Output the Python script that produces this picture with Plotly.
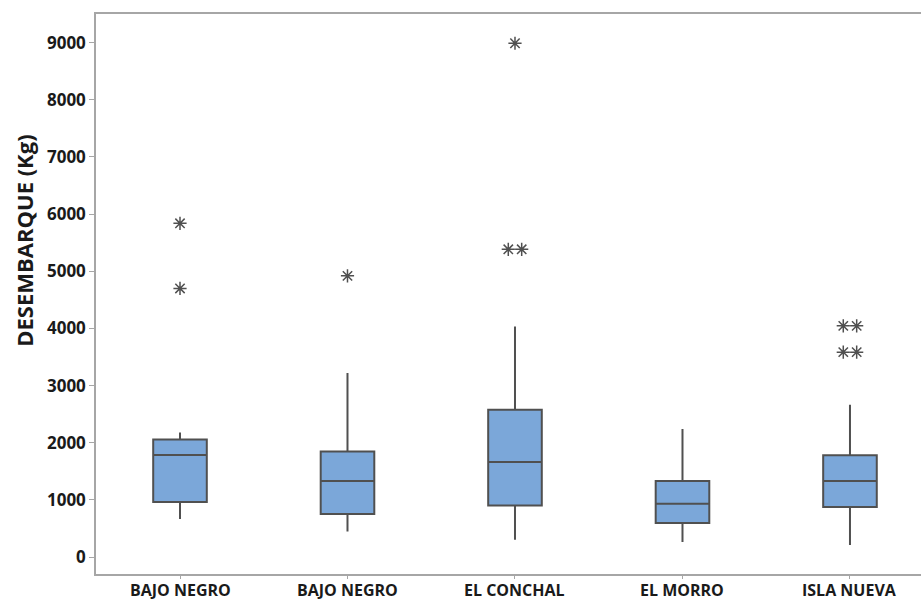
import plotly.graph_objects as go

categories = ["BAJO NEGRO", "BAJO NEGRO", "EL CONCHAL", "EL MORRO", "ISLA NUEVA"]
q1 = [962, 752, 902, 595, 874]
median = [1784, 1329, 1661, 932, 1329]
q3 = [2057, 1847, 2576, 1329, 1780]
lower_whisker = [665, 448, 303, 262, 210]
upper_whisker = [2179, 3218, 4033, 2239, 2663]
outliers = [
    [5840, 4700],
    [4920],
    [8990, 5385, 5385],
    [],
    [4045, 4045, 3585, 3585],
]
y_ticks = [0, 1000, 2000, 3000, 4000, 5000, 6000, 7000, 8000, 9000]

BOX_FILL = "#7BA7D9"
LINE = "#505050"
AXIS = "#A6A6A6"
TEXT = "#1A1A1A"
FONT = "Open Sans"

positions = list(range(1, len(categories) + 1))

fig = go.Figure()
fig.add_trace(go.Box(
    x=positions,
    q1=q1, median=median, q3=q3,
    lowerfence=lower_whisker, upperfence=upper_whisker,
    width=0.32,
    whiskerwidth=0,
    fillcolor=BOX_FILL,
    line=dict(color=LINE, width=2),
    boxpoints=False,
    showlegend=False,
))

ox, oy = [], []
for pos, vals in zip(positions, outliers):
    counts = {}
    for v in vals:
        counts[v] = counts.get(v, 0) + 1
    for v, n in counts.items():
        for k in range(n):
            off = (k - (n - 1) / 2) * 0.08
            ox.append(pos + off)
            oy.append(v)

fig.add_trace(go.Scatter(
    x=ox, y=oy, mode="markers",
    marker=dict(symbol="asterisk-open", size=11, color=LINE,
                line=dict(color=LINE, width=1.5)),
    showlegend=False,
))

annotations = [dict(
    text="DESEMBARQUE (Kg)", textangle=-90,
    xref="paper", yref="paper", x=-0.0873, y=0.595,
    xanchor="center", yanchor="middle", showarrow=False,
    font=dict(family=FONT, size=22, color=TEXT, weight="bold"),
)]
for pos, name in zip(positions, categories):
    annotations.append(dict(
        text=name, xref="x", yref="paper", x=pos, y=0,
        xanchor="center", yanchor="top", yshift=-3, showarrow=False,
        font=dict(family=FONT, size=16, color=TEXT, weight="bold"),
    ))

fig.update_layout(
    width=921, height=601,
    margin=dict(l=96, r=0, t=14, b=27),
    paper_bgcolor="white", plot_bgcolor="white",
    font=dict(family=FONT, color=TEXT),
    annotations=annotations,
)
fig.update_xaxes(
    range=[0.4985, 5.424], automargin=False,
    tickmode="array", tickvals=positions, showticklabels=False,
    showgrid=False, zeroline=False,
    showline=True, linecolor=AXIS, linewidth=1.5, mirror=True,
    ticks="outside", ticklen=3, tickcolor=AXIS,
)
fig.update_yaxes(
    range=[-297, 9502], automargin=False,
    tickmode="array", tickvals=y_ticks,
    showgrid=False, zeroline=False,
    showline=True, linecolor=AXIS, linewidth=1.5,
    ticks="outside", ticklen=5, tickcolor=AXIS,
    tickfont=dict(family=FONT, size=17, color=TEXT, weight="bold"),
)

fig.write_html("out.html")
